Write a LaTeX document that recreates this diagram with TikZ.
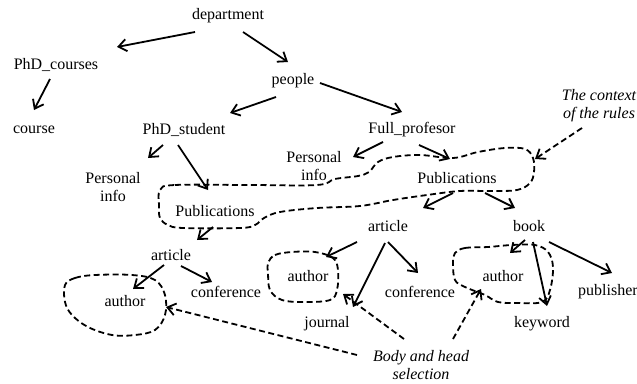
\documentclass[tikz,border=0pt]{standalone}
\usepackage{fontspec}
\setmainfont{Liberation Serif}
\usetikzlibrary{arrows.meta,calc}
\begin{document}
\begin{tikzpicture}[x=1pt,y=-1pt,
  lbl/.style={inner sep=0pt, font=\fontsize{16}{18}\selectfont},
  twoline/.style={lbl, align=center},
  note/.style={inner sep=0pt, align=center, font=\fontsize{16}{18}\selectfont\itshape},
  arr/.style={line width=1.8pt, -{Straight Barb[length=8pt,width=12pt]}},
  darr/.style={arr, dash pattern=on 6pt off 3.5pt},
  blob/.style={line width=1.8pt, dash pattern=on 6pt off 3.5pt}]
\useasboundingbox (0,0) rectangle (637,383);

% ---- tree nodes ----
\node[lbl] (dept)    at (228,16)  {department};
\node[lbl] (phdc)    at (56,65)   {PhD\_courses};
\node[lbl] (people)  at (293,81)  {people};
\node[lbl] (course)  at (34,130)  {course};
\node[lbl] (phds)    at (184,130) {PhD\_student};
\node[lbl] (fullp)   at (412,130) {Full\_profesor};
\node[twoline] (pinfoL) at (113,187) {Personal\\info};
\node[twoline] (pinfoR) at (314,166) {Personal\\info};
\node[lbl] (pubR)    at (457,178) {Publications};
\node[lbl] (pubL)    at (215,211) {Publications};
\node[lbl] (artR)    at (388,226) {article};
\node[lbl] (book)    at (529,226) {book};
\node[lbl] (artL)    at (171,255) {article};
\node[lbl] (authL)   at (125,301) {author};
\node[lbl] (confL)   at (226,292) {conference};
\node[lbl] (authM)   at (308,276) {author};
\node[lbl] (confM)   at (420,292) {conference};
\node[lbl] (journal) at (327,324) {journal};
\node[lbl] (authR)   at (503,276) {author};
\node[lbl] (keyword) at (542,324) {keyword};
\node[lbl, anchor=west] (publ) at (578,292) {publisher};

% ---- annotations ----
\node[note] (ctx)  at (599,106) {The context\\of the rules};
\node[note] (body) at (421,365) {Body and head\\selection};

% ---- tree edges ----
\draw[arr] ($(dept)+(-33,16)$)   -- ($(phdc)+(61,-18)$);
\draw[arr] ($(dept)+(15,16)$)    -- ($(people)+(-5,-19)$);
\draw[arr] ($(phdc)+(-6,14)$)    -- ($(course)+(0,-20)$);
\draw[arr] ($(people)+(-17,16)$) -- ($(phds)+(46,-17)$);
\draw[arr] ($(people)+(27,2)$)   -- ($(fullp)+(-10,-18)$);
\draw[arr] ($(phds)+(-21,15)$)   -- ($(pinfoL)+(35,-29)$);
\draw[arr] ($(phds)+(-6,15)$)    -- ($(pubL)+(-7,-21)$);
\draw[arr] ($(fullp)+(-29,12)$)  -- ($(pinfoR)+(39,-9)$);
\draw[arr] ($(fullp)+(7,15)$)    -- ($(pubR)+(-7,-19)$);
\draw[arr] ($(pubR)+(-4,15)$)    -- ($(artR)+(35,-18)$);
\draw[arr] ($(pubR)+(28,15)$)    -- ($(book)+(-14,-18)$);
\draw[arr] ($(pubL)+(-2,16)$)    -- ($(artL)+(26,-15)$);
\draw[arr] ($(artL)+(-7,10)$)    -- ($(authL)+(8,-12)$);
\draw[arr] ($(artL)+(10,11)$)    -- ($(confL)+(-14,-10)$);
\draw[arr] ($(artR)+(-31,16)$)   -- ($(authM)+(18,-19)$);
\draw[arr] ($(artR)+(-3,17)$)    -- ($(journal)+(26,-17)$);
\draw[arr] ($(artR)+(0,16)$)     -- ($(confM)+(-2,-19)$);
\draw[arr] ($(book)+(-4,14)$)    -- ($(authR)+(7,-23)$);
\draw[arr] ($(book)+(4,16)$)     -- ($(keyword)+(5,-18)$);
\draw[arr] ($(book)+(20,16)$)    -- ($(publ.west)+(34,-19)$);

% ---- dashed regions ----
% context of the rules: both Publications nodes
\draw[blob] plot[smooth cycle, tension=0.6] coordinates {
  (160,190) (175,185) (250,185) (317,185) (335,179) (358,176) (369,172)
  (378,162) (393,157) (420,155) (453,158) (478,152) (505,148) (525,149)
  (533,158) (534,172) (530,183) (517,190) (490,191) (460,191) (427,195)
  (393,200) (360,206) (317,208) (280,212) (264,218) (255,225) (240,228)
  (183,228) (168,225) (160,218) (159,205)};
% selected authors
\draw[blob] plot[smooth cycle, tension=0.6] coordinates {
  (65,285) (75,278) (95,275) (132,275) (155,280) (165,295) (165,315)
  (155,330) (135,335) (112,335) (88,327) (72,315) (65,302)};
\draw[blob] plot[smooth cycle, tension=0.6] coordinates {
  (268,263) (275,255) (292,252) (315,252) (333,258) (338,270) (337,290)
  (330,300) (305,302) (282,300) (270,290) (268,273)};
\draw[blob] plot[smooth cycle, tension=0.6] coordinates {
  (455,253) (465,248) (488,247) (512,245) (535,245) (548,252) (553,267)
  (550,290) (542,302) (518,303) (498,302) (485,295) (465,287) (455,280)
  (453,263)};

% ---- annotation pointers ----
\coordinate (ctxtip) at (535,159);
\coordinate (selL)   at (166,307);
\coordinate (selM)   at (343,294);
\coordinate (selR)   at (481,289);
\draw[darr] ($(ctx)+(-17,22)$)   -- (ctxtip);
\draw[darr] ($(body)+(-64,-10)$) -- (selL);
\draw[darr] ($(body)+(-17,-26)$) -- (selM);
\draw[darr] ($(body)+(32,-26)$)  -- (selR);
\end{tikzpicture}
\end{document}
